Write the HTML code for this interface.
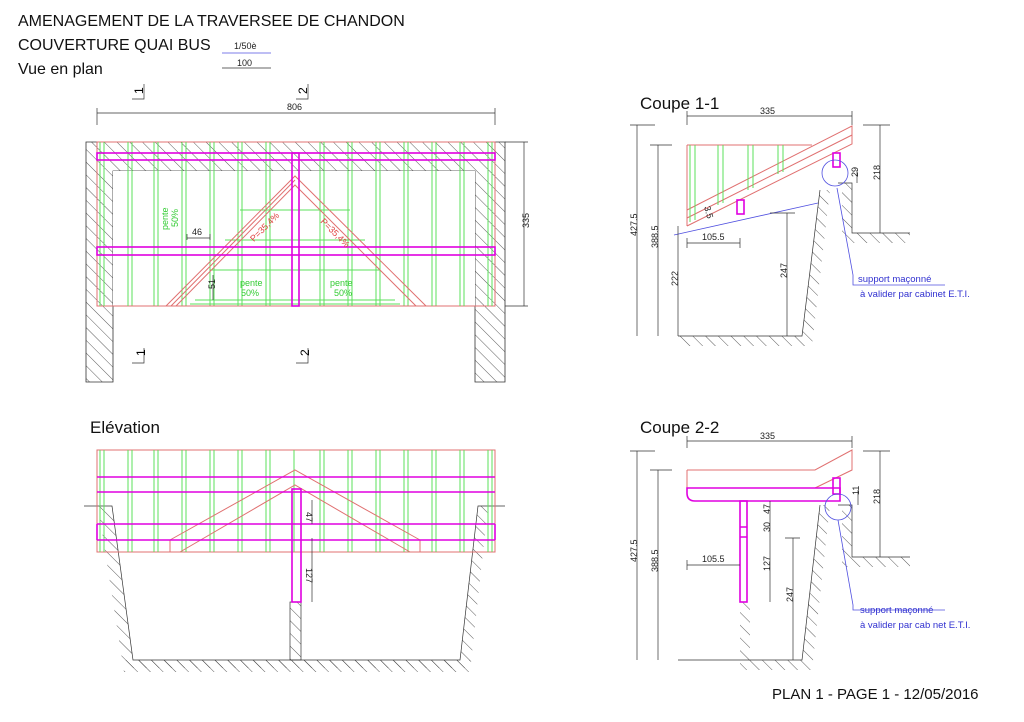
<!DOCTYPE html>
<html><head><meta charset="utf-8"><style>
html,body{margin:0;padding:0;background:#fff}
svg{display:block;font-family:"Liberation Sans",sans-serif}
.d{stroke:#333;stroke-width:.7;fill:none}
.g{stroke:#5be05b;stroke-width:1;fill:none}
.r{stroke:#e07070;stroke-width:1;fill:none}
.m{stroke:#e000e0;stroke-width:1.6;fill:none}
.t{font-size:9px;fill:#222}
.b{stroke:#5050e0;stroke-width:.8;fill:none}
</style></head><body>
<svg width="1024" height="722" viewBox="0 0 1024 722" xmlns="http://www.w3.org/2000/svg">
<defs>
<pattern id="h" width="9" height="9" patternUnits="userSpaceOnUse" patternTransform="rotate(-45)">
<line x1="0" y1="0" x2="0" y2="9" stroke="#333" stroke-width=".8"/></pattern>
</defs>
<rect width="1024" height="722" fill="#fff"/>
<g font-size="16" fill="#111">
<text x="18" y="26">AMENAGEMENT DE LA TRAVERSEE DE CHANDON</text>
<text x="18" y="50">COUVERTURE QUAI BUS</text>
<text x="18" y="74">Vue en plan</text>
<text x="640" y="109" font-size="17">Coupe 1-1</text>
<text x="640" y="433" font-size="17">Coupe 2-2</text>
<text x="90" y="433" font-size="17">Elévation</text>
<text x="772" y="699" font-size="15">PLAN 1 - PAGE 1 - 12/05/2016</text>
</g>
<text x="234" y="49" class="t" font-size="8">1/50è</text>
<line x1="222" y1="53" x2="271" y2="53" class="b"/>
<line x1="222" y1="68" x2="271" y2="68" class="d"/>
<text x="237" y="66" class="t">100</text>

<!-- PLAN VIEW -->
<path d="M86 142 H505 V382 H475 V171 H113 V382 H86 Z" fill="url(#h)" stroke="#333" stroke-width=".8"/>
<rect x="113" y="171" width="362" height="135" fill="#fff"/>
<rect x="97" y="142" width="398" height="164" class="r"/>
<g class="g">
<path d="M100 142V306M104 142V306M128 142V306M132 142V306M154 142V306M158 142V306M182 142V306M186 142V306M210 142V306M214 142V306M238 142V306M242 142V306M266 142V306M270 142V306M320 142V306M324 142V306M348 142V306M352 142V306M376 142V306M380 142V306M404 142V306M408 142V306M432 142V306M436 142V306M460 142V306M464 142V306M488 142V306M492 142V306"/>
<path d="M240 210H350M225 240H365M210 270H380M195 300H395M190 304H400"/>
</g>
<line x1="113" y1="306" x2="475" y2="306" stroke="#e07070" stroke-dasharray="10 6"/>
<path d="M166 306 L295 176 L426 306 M176 306 L295 185 L416 306 M171 306 L295 180" class="r"/>
<rect x="97" y="153" width="398" height="7" class="m"/>
<rect x="97" y="247" width="398" height="8" class="m"/>
<rect x="292" y="153" width="7" height="153" class="m"/>
<text x="250" y="237" class="t" transform="rotate(-45 258 235)" style="fill:#e04040">P=35,4%</text>
<text x="320" y="222" class="t" transform="rotate(45 320 222)" style="fill:#e04040">P=35,4%</text>
<text x="240" y="286" class="t" style="fill:#3c3">pente</text><text x="241" y="296" class="t" style="fill:#3c3">50%</text>
<text x="330" y="286" class="t" style="fill:#3c3">pente</text><text x="334" y="296" class="t" style="fill:#3c3">50%</text>
<g transform="rotate(-90 172 218)"><text x="160" y="214" class="t" style="fill:#3c3">pente</text><text x="163" y="224" class="t" style="fill:#3c3">50%</text></g>
<path d="M187 238H210M187 234V240M210 234V240M213 275V300" class="d"/>
<text x="192" y="235" class="t">46</text>
<text x="212" y="292" class="t" transform="rotate(-90 212 289)">51</text>
<path d="M97 113H495M97 108V125M495 108V125" class="d"/>
<text x="287" y="110" class="t">806</text>
<path d="M524 142V306M505 142H528M505 306H528" class="d"/>
<text x="525" y="232" class="t" transform="rotate(-90 525 228)">335</text>
<path d="M132 99H144V84M132 363H144V348M296 99H308V84M296 363H308V348" class="d" stroke-width="1"/>
<text x="140" y="97" font-size="12" transform="rotate(-90 140 94)">1</text>
<text x="140" y="361" font-size="12" transform="rotate(-90 140 356)">1</text>
<text x="304" y="97" font-size="12" transform="rotate(-90 304 94)">2</text>
<text x="304" y="361" font-size="12" transform="rotate(-90 304 356)">2</text>

<!-- ELEVATION -->
<path d="M84 506 H112 L133 660 H460 L478 506 H505 L488 506 L470 672 H124 L98 506 Z" fill="url(#h)"/>
<path d="M84 506H112L133 660H460L478 506H505" class="d"/>
<rect x="122" y="660" width="348" height="8" fill="url(#h)"/>
<rect x="290" y="602" width="11" height="58" fill="url(#h)" stroke="#333" stroke-width=".7"/>
<rect x="97" y="450" width="398" height="102" class="r" fill="#fff"/>
<g class="g">
<path d="M100 450V552M104 450V552M128 450V552M132 450V552M154 450V552M158 450V552M182 450V552M186 450V552M210 450V552M214 450V552M238 450V552M242 450V552M266 450V552M270 450V552M294 450V552M320 450V552M324 450V552M348 450V552M352 450V552M376 450V552M380 450V552M404 450V552M408 450V552M432 450V552M436 450V552M460 450V552M464 450V552M488 450V552M492 450V552"/>
</g>
<path d="M170 540 L295 470 L420 540 M180 552 L295 485 L410 552 M170 540V552M420 540V552" class="r"/>
<path d="M97 477H495M97 492H495M97 524H495M97 540H495M97 524V540M495 524V540" class="m"/>
<rect x="292" y="489" width="9" height="113" class="m" fill="#fff"/>
<path d="M312 500V524M312 538V602" class="d"/>
<text x="310" y="516" class="t" transform="rotate(90 310 512)">47</text>
<text x="310" y="572" class="t" transform="rotate(90 310 568)">127</text>

<!-- COUPE 1-1 -->
<path d="M820 190 L802 336 H678 V346 H812 L830 190 Z" fill="url(#h)"/>
<path d="M852 183V233H910V243H842V183Z" fill="url(#h)"/>
<path d="M678 336H802L820 190M838 183H852V233H910" class="d"/>
<path d="M687 145H812M687 145V226M687 210L852 126V144L687 226M687 218L852 135" class="r"/>
<g class="g"><path d="M690 145V222M695 145V220M718 145V205M723 145V203M748 145V190M753 145V188M778 145V174M783 145V172"/></g>
<rect x="737" y="200" width="7" height="14" class="m"/>
<rect x="833" y="153" width="7" height="14" class="m"/>
<circle cx="835" cy="173" r="13" class="b"/>
<path d="M674 235L818 203M837 188L853 275V285H945" class="b"/>
<text x="858" y="282" font-size="9.5" fill="#3030d0">support maçonné</text>
<text x="860" y="297" font-size="9.5" fill="#3030d0">à valider par cabinet E.T.I.</text>
<path d="M687 116H852M687 111V125M852 111V125M637 125V336M630 125H655M658 145V336M650 145H672M678 226V336M787 213V336M770 213H795M880 125V233M863 125H890M857 170V183M687 243H740M687 238V248M740 238V248" class="d"/>
<text x="760" y="114" class="t">335</text>
<text x="702" y="240" class="t">105.5</text>
<text x="633" y="240" class="t" transform="rotate(-90 633 236)">427.5</text>
<text x="654" y="252" class="t" transform="rotate(-90 654 248)">388.5</text>
<text x="674" y="290" class="t" transform="rotate(-90 674 286)">222</text>
<text x="783" y="282" class="t" transform="rotate(-90 783 278)">247</text>
<text x="876" y="184" class="t" transform="rotate(-90 876 180)">218</text>
<text x="855" y="180" class="t" transform="rotate(-90 855 177)">29</text>
<text x="708" y="210" class="t" transform="rotate(75 708 206)">3.5</text>

<!-- COUPE 2-2 -->
<path d="M820 505 L802 660 H750 V602 H740 V670 H812 L830 505 Z" fill="url(#h)"/>
<path d="M852 505V557H910V567H842V505Z" fill="url(#h)"/>
<path d="M740 660H802L820 505M838 505H852V557H910M678 660H740" class="d"/>
<path d="M687 470H815L852 450V470L815 488M687 470V488" class="r"/>
<path d="M687 488H840V501H695Q687 501 687 493Z" class="m"/>
<rect x="833" y="478" width="7" height="16" class="m"/>
<rect x="740" y="501" width="7" height="101" class="m"/>
<path d="M740 527H747M740 537H747" class="m" stroke-width="1"/>
<circle cx="838" cy="507" r="13" class="b"/>
<path d="M838 520L853 605V610H945" class="b"/>
<text x="860" y="613" font-size="9.5" fill="#3030d0">support maçonné</text>
<text x="860" y="628" font-size="9.5" fill="#3030d0">à valider par cab net E.T.I.</text>
<path d="M687 441H852M687 436V448M852 436V448M637 451V660M630 451H655M658 470V660M650 470H672M770 501V602M793 538V660M785 538H800M880 451V557M863 451H890M858 490V505M687 565H740M687 560V570" class="d"/>
<text x="760" y="439" class="t">335</text>
<text x="702" y="562" class="t">105.5</text>
<text x="633" y="566" class="t" transform="rotate(-90 633 562)">427.5</text>
<text x="654" y="576" class="t" transform="rotate(-90 654 572)">388.5</text>
<text x="766" y="518" class="t" transform="rotate(-90 766 514)">47</text>
<text x="766" y="536" class="t" transform="rotate(-90 766 532)">30</text>
<text x="766" y="575" class="t" transform="rotate(-90 766 571)">127</text>
<text x="789" y="606" class="t" transform="rotate(-90 789 602)">247</text>
<text x="876" y="508" class="t" transform="rotate(-90 876 504)">218</text>
<text x="856" y="498" class="t" transform="rotate(-90 856 495)">11</text>
</svg>
</body></html>
